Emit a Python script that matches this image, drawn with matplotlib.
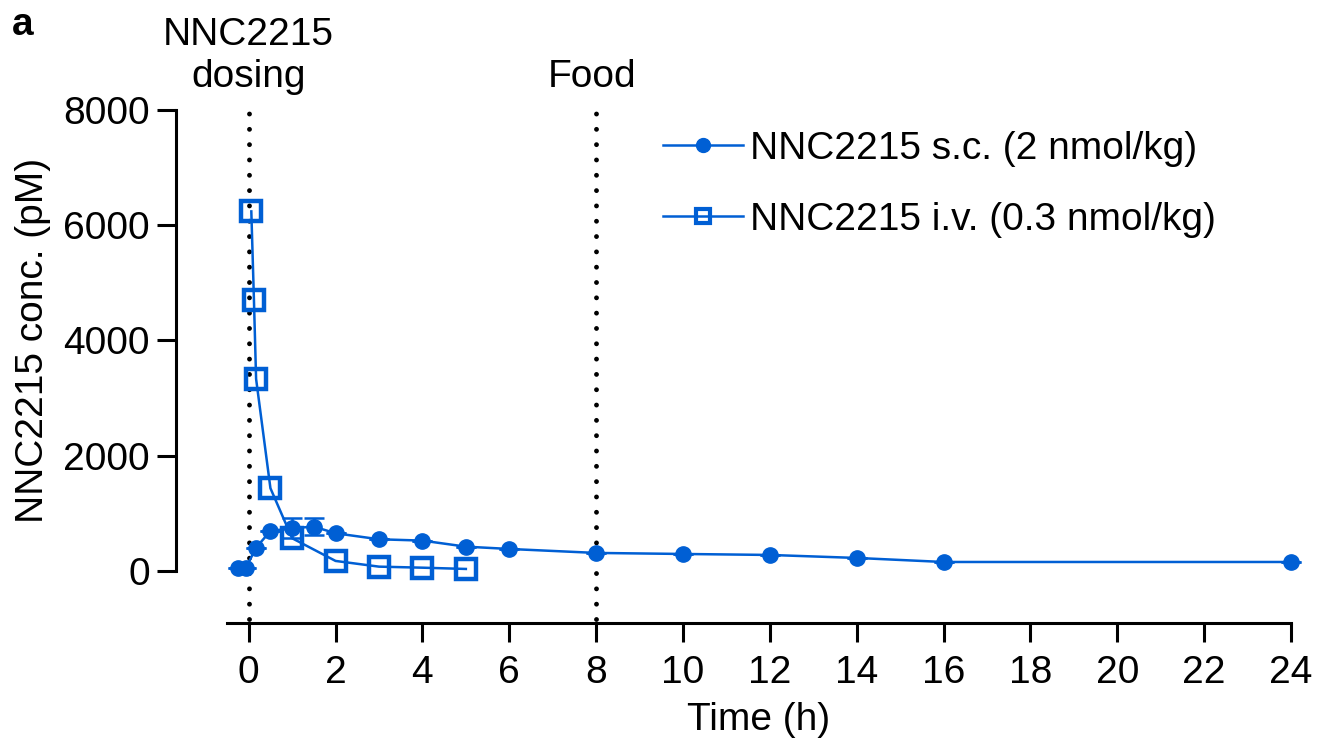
import numpy as np
import matplotlib
matplotlib.use('Agg')
import matplotlib.pyplot as plt
from matplotlib.lines import Line2D

plt.rcParams['font.family'] = ['Liberation Sans', 'DejaVu Sans']

# s.c. dosing (2 nmol/kg)
t_sc = [-0.25, -0.06, 0.17, 0.5, 1, 1.5, 2, 3, 4, 5, 6, 8, 10, 12, 14, 16, 24]
c_sc = [52, 60, 405, 694, 741, 770, 654, 550, 527, 422, 382, 313, 295, 278, 226, 156, 156]
err_sc = [0, 0, 0, 0, 170, 150, 0, 0, 0, 0, 0, 0, 0, 0, 0, 0, 0]

# i.v. dosing (0.3 nmol/kg)
t_iv = [0.06, 0.12, 0.17, 0.5, 1, 2, 3, 4, 5]
c_iv = [6240, 4710, 3333, 1436, 568, 174, 75, 57, 35]

xticks = list(range(0, 25, 2))
yticks = [0, 2000, 4000, 6000, 8000]
event_times = [0, 8]
event_labels = ['NNC2215\ndosing', 'Food']
series_labels = ['NNC2215 s.c. (2 nmol/kg)', 'NNC2215 i.v. (0.3 nmol/kg)']

blue = '#005FD4'
fs = 28

fig = plt.figure(figsize=(13.3, 7.54), dpi=100)
ax = fig.add_axes([227 / 1330, 1 - 623 / 754, (1291 - 227) / 1330, (623 - 110) / 754])
ax.set_xlim(-0.5, 24)
ax.set_ylim(-903, 8000)

# event lines
for t, lab in zip(event_times, event_labels):
    ax.plot([t, t], [-830, 8050], color='black', lw=3.5,
            linestyle=(0, (0.001, 3.15)), dash_capstyle='round', clip_on=False, zorder=1)
    ax.text(t - 0.1 * (t > 0), 8400, lab, ha='center', va='baseline', fontsize=fs,
            multialignment='center', linespacing=1.2)

ax.errorbar(t_sc, c_sc, yerr=err_sc, color=blue, lw=1.8, marker='o', markersize=11,
            capsize=7, capthick=1.8, elinewidth=1.8, clip_on=False, zorder=3)
ax.plot(t_iv, c_iv, color=blue, lw=1.8, marker='s', markersize=15,
        markerfacecolor='none', markeredgewidth=3.2, clip_on=False, zorder=4)

# axes styling (GraphPad-like offset axes)
for s in ['top', 'right']:
    ax.spines[s].set_visible(False)
ax.spines['left'].set_position(('outward', 36.7))
ax.spines['left'].set_bounds(0, 8000)
ax.spines['left'].set_linewidth(2.2)
ax.spines['bottom'].set_linewidth(2.2)
ax.spines['bottom'].set_bounds(-0.5, 24)

ax.set_xticks(xticks)
ax.set_yticks(yticks)
ax.tick_params(axis='both', which='major', labelsize=fs, width=2.2, length=14, direction='out')
ax.tick_params(axis='x', pad=9)
ax.tick_params(axis='y', pad=5)

ax.set_xlabel('Time (h)', fontsize=fs, labelpad=8)
ax.set_ylabel('NNC2215 conc. (pM)', fontsize=fs)
ax.yaxis.set_label_coords(-0.165, (4000 + 903) / 8903)

fig.text(12 / 1330, 1 - 35 / 754, 'a', fontsize=fs, fontweight='bold', va='baseline')

# legend with slightly smaller markers, like the original
h_sc = Line2D([], [], color=blue, lw=1.8, marker='o', markersize=10)
h_iv = Line2D([], [], color=blue, lw=1.8, marker='s', markersize=10,
              markerfacecolor='none', markeredgewidth=3)
ax.legend([h_sc, h_iv], series_labels,
          loc='upper left', bbox_to_anchor=(663 / 1330, 1 - 131 / 754),
          bbox_transform=fig.transFigure, frameon=False, fontsize=fs, borderpad=0,
          borderaxespad=0, handlelength=2.05, handletextpad=0.2, labelspacing=0.9)

fig.savefig('out.png', dpi=100)
